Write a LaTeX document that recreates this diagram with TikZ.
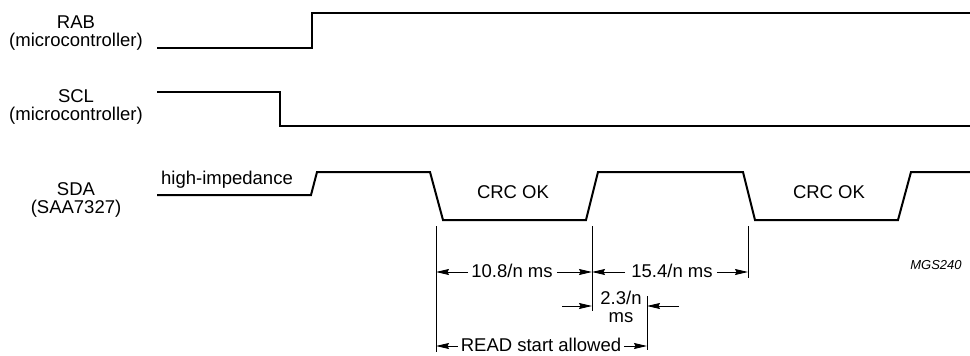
\documentclass[tikz,border=0pt]{standalone}
\usepackage{fontspec}
\setmainfont{Liberation Sans}
\usetikzlibrary{arrows.meta}
\begin{document}
\begin{tikzpicture}[x=1pt,y=-1pt,
  lbl/.style={align=center,inner sep=0pt,font=\fontsize{18.5}{18}\selectfont},
  txt/.style={inner sep=0pt,font=\fontsize{18.5}{21}\selectfont},
  wave/.style={line width=2pt,line join=miter},
  dim/.style={line width=0.9pt},
  dimarr/.style={line width=0.9pt,-{Stealth[length=13pt,width=6pt,inset=1.5pt]}}]
\useasboundingbox (0,0) rectangle (970,356);
% signal labels
\node[lbl] (rab) at (76,33) {RAB\\(microcontroller)};
\node[lbl] (scl) at (76,107) {SCL\\(microcontroller)};
\node[lbl] (sda) at (76,200) {SDA\\(SAA7327)};
% waveforms
\draw[wave] (157,48) -- (312,48) -- (312,13) -- (970,13);
\draw[wave] (157,92) -- (280,92) -- (280,126) -- (970,126);
\draw[wave] (157,195) -- (311,195) -- (317,172) -- (430,172) -- (443,220)
  -- (586,220) -- (598,172) -- (743,172) -- (755,220) -- (898,220) -- (911,172) -- (970,172);
\node[txt] (hi) at (227,180) {high-impedance};
\node[txt] (crc1) at (513,192) {CRC OK};
\node[txt] (crc2) at (829,192) {CRC OK};
% reference lines
\coordinate (a0) at (436,226); \coordinate (a1) at (436,352);
\coordinate (b0) at (592,226); \coordinate (b1) at (592,311);
\coordinate (c0) at (748,226); \coordinate (c1) at (748,278);
\coordinate (d0) at (647,296); \coordinate (d1) at (647,350);
\draw[dim] (a0) -- (a1);
\draw[dim] (b0) -- (b1);
\draw[dim] (c0) -- (c1);
\draw[dim] (d0) -- (d1);
% dimension 10.8/n ms
\node[txt] (t1) at (512,271) {10.8/n ms};
\draw[dimarr] (t1.west) ++(-3,1) coordinate (t1w) -- (a0 |- t1w);
\draw[dimarr] (t1.east) ++(4,1) coordinate (t1e) -- (b0 |- t1e);
% dimension 15.4/n ms
\node[txt] (t2) at (672,271) {15.4/n ms};
\draw[dimarr] (t2.west) ++(-6,1) coordinate (t2w) -- (b0 |- t2w);
\draw[dimarr] (t2.east) ++(4,1) coordinate (t2e) -- (c0 |- t2e);
% dimension 2.3/n ms
\node[lbl] (t3) at (621,307) {2.3/n\\ms};
\coordinate (e0) at (562,306); \coordinate (e1) at (679,306);
\draw[dimarr] (e0) -- (b0 |- e0);
\draw[dimarr] (e1) -- (d0 |- e1);
% READ start allowed
\node[txt] (t4) at (541,345) {READ start allowed};
\draw[dimarr] (t4.west) ++(-3,1) coordinate (t4w) -- (a0 |- t4w);
\draw[dimarr] (t4.east) ++(3,1) coordinate (t4e) -- (d0 |- t4e);
% code
\node[inner sep=0pt,font=\fontsize{13}{15}\selectfont\itshape] (code) at (936,265) {MGS240};
\end{tikzpicture}
\end{document}
